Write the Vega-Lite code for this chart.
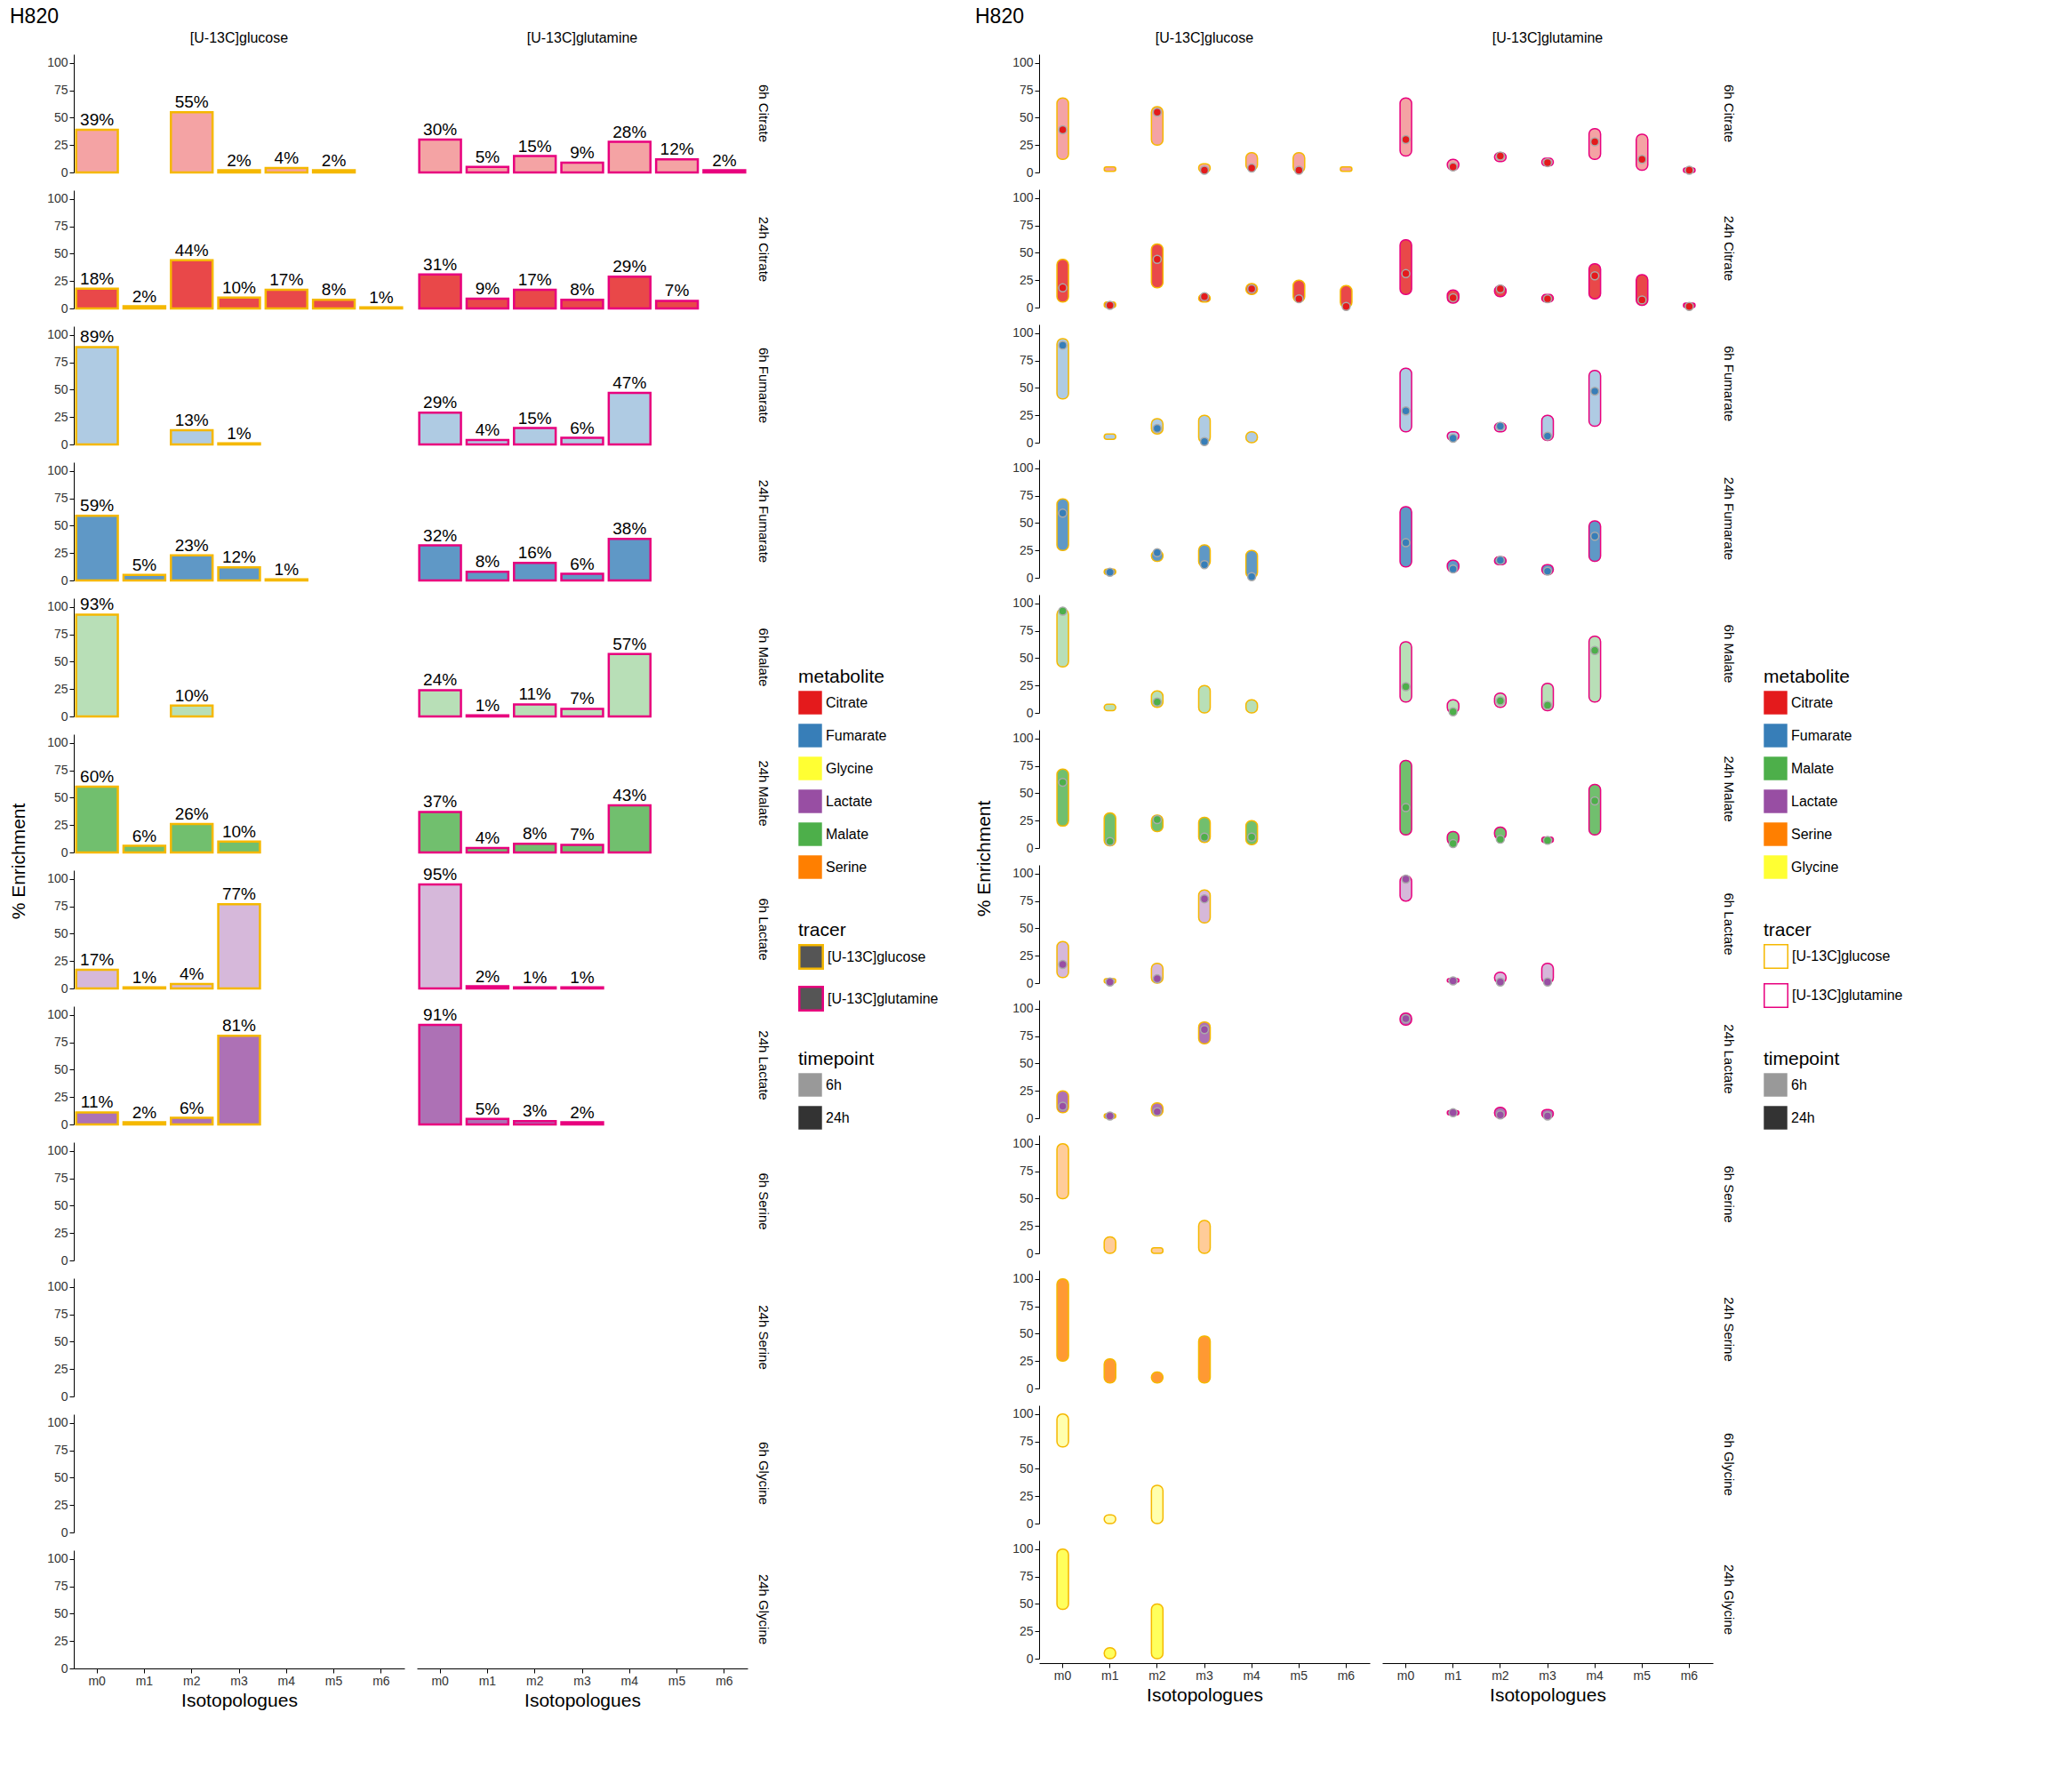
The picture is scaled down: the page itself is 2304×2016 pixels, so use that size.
{
"$schema":"https://vega.github.io/schema/vega-lite/v6.json",
"background":"white",
"padding":{"left":10,"top":8,"right":10,"bottom":5},
"config":{"view":{"stroke":null},"axis":{"grid":false,"domainColor":"black","tickColor":"black","labelFontSize":14,"labelOverlap":false,"titleFontSize":21,"titleFontWeight":"normal","labelColor":"#333"},
"header":{"labelFontSize":15,"titleFontSize":21,"titleFontWeight":"normal"},"legend":{"titleFontSize":21,"titleFontWeight":"normal","labelFontSize":16,"symbolSize":700,"rowPadding":10,"orient":"none"},"font":"Liberation Sans"},
"datasets":{
"bars":[
{"t":"glc","met":"Citrate","tp":"6h","iso":"m0","v":39},{"t":"glc","met":"Citrate","tp":"6h","iso":"m2","v":55},{"t":"glc","met":"Citrate","tp":"6h","iso":"m3","v":2},{"t":"glc","met":"Citrate","tp":"6h","iso":"m4","v":4},{"t":"glc","met":"Citrate","tp":"6h","iso":"m5","v":2},
{"t":"gln","met":"Citrate","tp":"6h","iso":"m0","v":30},{"t":"gln","met":"Citrate","tp":"6h","iso":"m1","v":5},{"t":"gln","met":"Citrate","tp":"6h","iso":"m2","v":15},{"t":"gln","met":"Citrate","tp":"6h","iso":"m3","v":9},{"t":"gln","met":"Citrate","tp":"6h","iso":"m4","v":28},{"t":"gln","met":"Citrate","tp":"6h","iso":"m5","v":12},{"t":"gln","met":"Citrate","tp":"6h","iso":"m6","v":2},
{"t":"glc","met":"Citrate","tp":"24h","iso":"m0","v":18},{"t":"glc","met":"Citrate","tp":"24h","iso":"m1","v":2},{"t":"glc","met":"Citrate","tp":"24h","iso":"m2","v":44},{"t":"glc","met":"Citrate","tp":"24h","iso":"m3","v":10},{"t":"glc","met":"Citrate","tp":"24h","iso":"m4","v":17},{"t":"glc","met":"Citrate","tp":"24h","iso":"m5","v":8},{"t":"glc","met":"Citrate","tp":"24h","iso":"m6","v":1},
{"t":"gln","met":"Citrate","tp":"24h","iso":"m0","v":31},{"t":"gln","met":"Citrate","tp":"24h","iso":"m1","v":9},{"t":"gln","met":"Citrate","tp":"24h","iso":"m2","v":17},{"t":"gln","met":"Citrate","tp":"24h","iso":"m3","v":8},{"t":"gln","met":"Citrate","tp":"24h","iso":"m4","v":29},{"t":"gln","met":"Citrate","tp":"24h","iso":"m5","v":7},
{"t":"glc","met":"Fumarate","tp":"6h","iso":"m0","v":89},{"t":"glc","met":"Fumarate","tp":"6h","iso":"m2","v":13},{"t":"glc","met":"Fumarate","tp":"6h","iso":"m3","v":1},
{"t":"gln","met":"Fumarate","tp":"6h","iso":"m0","v":29},{"t":"gln","met":"Fumarate","tp":"6h","iso":"m1","v":4},{"t":"gln","met":"Fumarate","tp":"6h","iso":"m2","v":15},{"t":"gln","met":"Fumarate","tp":"6h","iso":"m3","v":6},{"t":"gln","met":"Fumarate","tp":"6h","iso":"m4","v":47},
{"t":"glc","met":"Fumarate","tp":"24h","iso":"m0","v":59},{"t":"glc","met":"Fumarate","tp":"24h","iso":"m1","v":5},{"t":"glc","met":"Fumarate","tp":"24h","iso":"m2","v":23},{"t":"glc","met":"Fumarate","tp":"24h","iso":"m3","v":12},{"t":"glc","met":"Fumarate","tp":"24h","iso":"m4","v":1},
{"t":"gln","met":"Fumarate","tp":"24h","iso":"m0","v":32},{"t":"gln","met":"Fumarate","tp":"24h","iso":"m1","v":8},{"t":"gln","met":"Fumarate","tp":"24h","iso":"m2","v":16},{"t":"gln","met":"Fumarate","tp":"24h","iso":"m3","v":6},{"t":"gln","met":"Fumarate","tp":"24h","iso":"m4","v":38},
{"t":"glc","met":"Malate","tp":"6h","iso":"m0","v":93},{"t":"glc","met":"Malate","tp":"6h","iso":"m2","v":10},
{"t":"gln","met":"Malate","tp":"6h","iso":"m0","v":24},{"t":"gln","met":"Malate","tp":"6h","iso":"m1","v":1},{"t":"gln","met":"Malate","tp":"6h","iso":"m2","v":11},{"t":"gln","met":"Malate","tp":"6h","iso":"m3","v":7},{"t":"gln","met":"Malate","tp":"6h","iso":"m4","v":57},
{"t":"glc","met":"Malate","tp":"24h","iso":"m0","v":60},{"t":"glc","met":"Malate","tp":"24h","iso":"m1","v":6},{"t":"glc","met":"Malate","tp":"24h","iso":"m2","v":26},{"t":"glc","met":"Malate","tp":"24h","iso":"m3","v":10},
{"t":"gln","met":"Malate","tp":"24h","iso":"m0","v":37},{"t":"gln","met":"Malate","tp":"24h","iso":"m1","v":4},{"t":"gln","met":"Malate","tp":"24h","iso":"m2","v":8},{"t":"gln","met":"Malate","tp":"24h","iso":"m3","v":7},{"t":"gln","met":"Malate","tp":"24h","iso":"m4","v":43},
{"t":"glc","met":"Lactate","tp":"6h","iso":"m0","v":17},{"t":"glc","met":"Lactate","tp":"6h","iso":"m1","v":1},{"t":"glc","met":"Lactate","tp":"6h","iso":"m2","v":4},{"t":"glc","met":"Lactate","tp":"6h","iso":"m3","v":77},
{"t":"gln","met":"Lactate","tp":"6h","iso":"m0","v":95},{"t":"gln","met":"Lactate","tp":"6h","iso":"m1","v":2},{"t":"gln","met":"Lactate","tp":"6h","iso":"m2","v":1},{"t":"gln","met":"Lactate","tp":"6h","iso":"m3","v":1},
{"t":"glc","met":"Lactate","tp":"24h","iso":"m0","v":11},{"t":"glc","met":"Lactate","tp":"24h","iso":"m1","v":2},{"t":"glc","met":"Lactate","tp":"24h","iso":"m2","v":6},{"t":"glc","met":"Lactate","tp":"24h","iso":"m3","v":81},
{"t":"gln","met":"Lactate","tp":"24h","iso":"m0","v":91},{"t":"gln","met":"Lactate","tp":"24h","iso":"m1","v":5},{"t":"gln","met":"Lactate","tp":"24h","iso":"m2","v":3},{"t":"gln","met":"Lactate","tp":"24h","iso":"m3","v":2},
{"t":"glc","met":"Serine","tp":"6h","iso":"m0","v":null},{"t":"gln","met":"Serine","tp":"6h","iso":"m0","v":null},{"t":"glc","met":"Serine","tp":"24h","iso":"m0","v":null},{"t":"gln","met":"Serine","tp":"24h","iso":"m0","v":null},
{"t":"glc","met":"Glycine","tp":"6h","iso":"m0","v":null},{"t":"gln","met":"Glycine","tp":"6h","iso":"m0","v":null},{"t":"glc","met":"Glycine","tp":"24h","iso":"m0","v":null},{"t":"gln","met":"Glycine","tp":"24h","iso":"m0","v":null}
],
"vio":[
{"t":"glc","met":"Citrate","tp":"6h","iso":"m0","mean":39,"lo":12,"hi":68},{"t":"glc","met":"Citrate","tp":"6h","iso":"m1","mean":null,"lo":1,"hi":5},{"t":"glc","met":"Citrate","tp":"6h","iso":"m2","mean":55,"lo":25,"hi":60},{"t":"glc","met":"Citrate","tp":"6h","iso":"m3","mean":2,"lo":0,"hi":8},{"t":"glc","met":"Citrate","tp":"6h","iso":"m4","mean":4,"lo":2,"hi":18},{"t":"glc","met":"Citrate","tp":"6h","iso":"m5","mean":2,"lo":0,"hi":18},{"t":"glc","met":"Citrate","tp":"6h","iso":"m6","mean":null,"lo":1,"hi":5},
{"t":"gln","met":"Citrate","tp":"6h","iso":"m0","mean":30,"lo":15,"hi":68},{"t":"gln","met":"Citrate","tp":"6h","iso":"m1","mean":5,"lo":2,"hi":12},{"t":"gln","met":"Citrate","tp":"6h","iso":"m2","mean":15,"lo":10,"hi":18},{"t":"gln","met":"Citrate","tp":"6h","iso":"m3","mean":9,"lo":6,"hi":13},{"t":"gln","met":"Citrate","tp":"6h","iso":"m4","mean":28,"lo":12,"hi":40},{"t":"gln","met":"Citrate","tp":"6h","iso":"m5","mean":12,"lo":2,"hi":35},{"t":"gln","met":"Citrate","tp":"6h","iso":"m6","mean":2,"lo":0,"hi":4},
{"t":"glc","met":"Citrate","tp":"24h","iso":"m0","mean":18,"lo":5,"hi":44},{"t":"glc","met":"Citrate","tp":"24h","iso":"m1","mean":2,"lo":0,"hi":5},{"t":"glc","met":"Citrate","tp":"24h","iso":"m2","mean":44,"lo":18,"hi":58},{"t":"glc","met":"Citrate","tp":"24h","iso":"m3","mean":10,"lo":5,"hi":12},{"t":"glc","met":"Citrate","tp":"24h","iso":"m4","mean":17,"lo":12,"hi":22},{"t":"glc","met":"Citrate","tp":"24h","iso":"m5","mean":8,"lo":5,"hi":25},{"t":"glc","met":"Citrate","tp":"24h","iso":"m6","mean":1,"lo":0,"hi":20},
{"t":"gln","met":"Citrate","tp":"24h","iso":"m0","mean":31,"lo":12,"hi":62},{"t":"gln","met":"Citrate","tp":"24h","iso":"m1","mean":9,"lo":4,"hi":16},{"t":"gln","met":"Citrate","tp":"24h","iso":"m2","mean":17,"lo":10,"hi":20},{"t":"gln","met":"Citrate","tp":"24h","iso":"m3","mean":8,"lo":5,"hi":12},{"t":"gln","met":"Citrate","tp":"24h","iso":"m4","mean":29,"lo":8,"hi":40},{"t":"gln","met":"Citrate","tp":"24h","iso":"m5","mean":7,"lo":2,"hi":30},{"t":"gln","met":"Citrate","tp":"24h","iso":"m6","mean":1,"lo":0,"hi":4},
{"t":"glc","met":"Fumarate","tp":"6h","iso":"m0","mean":89,"lo":40,"hi":95},{"t":"glc","met":"Fumarate","tp":"6h","iso":"m1","mean":null,"lo":3,"hi":8},{"t":"glc","met":"Fumarate","tp":"6h","iso":"m2","mean":13,"lo":8,"hi":22},{"t":"glc","met":"Fumarate","tp":"6h","iso":"m3","mean":1,"lo":0,"hi":25},{"t":"glc","met":"Fumarate","tp":"6h","iso":"m4","mean":null,"lo":0,"hi":10},
{"t":"gln","met":"Fumarate","tp":"6h","iso":"m0","mean":29,"lo":10,"hi":68},{"t":"gln","met":"Fumarate","tp":"6h","iso":"m1","mean":4,"lo":2,"hi":10},{"t":"gln","met":"Fumarate","tp":"6h","iso":"m2","mean":15,"lo":10,"hi":18},{"t":"gln","met":"Fumarate","tp":"6h","iso":"m3","mean":6,"lo":2,"hi":25},{"t":"gln","met":"Fumarate","tp":"6h","iso":"m4","mean":47,"lo":15,"hi":66},
{"t":"glc","met":"Fumarate","tp":"24h","iso":"m0","mean":59,"lo":25,"hi":72},{"t":"glc","met":"Fumarate","tp":"24h","iso":"m1","mean":5,"lo":3,"hi":8},{"t":"glc","met":"Fumarate","tp":"24h","iso":"m2","mean":23,"lo":15,"hi":25},{"t":"glc","met":"Fumarate","tp":"24h","iso":"m3","mean":12,"lo":10,"hi":30},{"t":"glc","met":"Fumarate","tp":"24h","iso":"m4","mean":1,"lo":0,"hi":25},
{"t":"gln","met":"Fumarate","tp":"24h","iso":"m0","mean":32,"lo":10,"hi":65},{"t":"gln","met":"Fumarate","tp":"24h","iso":"m1","mean":8,"lo":5,"hi":16},{"t":"gln","met":"Fumarate","tp":"24h","iso":"m2","mean":16,"lo":12,"hi":19},{"t":"gln","met":"Fumarate","tp":"24h","iso":"m3","mean":6,"lo":3,"hi":12},{"t":"gln","met":"Fumarate","tp":"24h","iso":"m4","mean":38,"lo":15,"hi":52},
{"t":"glc","met":"Malate","tp":"6h","iso":"m0","mean":93,"lo":42,"hi":95},{"t":"glc","met":"Malate","tp":"6h","iso":"m1","mean":null,"lo":2,"hi":8},{"t":"glc","met":"Malate","tp":"6h","iso":"m2","mean":10,"lo":5,"hi":20},{"t":"glc","met":"Malate","tp":"6h","iso":"m3","mean":null,"lo":0,"hi":25},{"t":"glc","met":"Malate","tp":"6h","iso":"m4","mean":null,"lo":0,"hi":12},
{"t":"gln","met":"Malate","tp":"6h","iso":"m0","mean":24,"lo":10,"hi":65},{"t":"gln","met":"Malate","tp":"6h","iso":"m1","mean":1,"lo":0,"hi":12},{"t":"gln","met":"Malate","tp":"6h","iso":"m2","mean":11,"lo":5,"hi":18},{"t":"gln","met":"Malate","tp":"6h","iso":"m3","mean":7,"lo":2,"hi":27},{"t":"gln","met":"Malate","tp":"6h","iso":"m4","mean":57,"lo":10,"hi":70},
{"t":"glc","met":"Malate","tp":"24h","iso":"m0","mean":60,"lo":20,"hi":72},{"t":"glc","met":"Malate","tp":"24h","iso":"m1","mean":6,"lo":2,"hi":32},{"t":"glc","met":"Malate","tp":"24h","iso":"m2","mean":26,"lo":15,"hi":30},{"t":"glc","met":"Malate","tp":"24h","iso":"m3","mean":10,"lo":5,"hi":28},{"t":"glc","met":"Malate","tp":"24h","iso":"m4","mean":10,"lo":3,"hi":25},
{"t":"gln","met":"Malate","tp":"24h","iso":"m0","mean":37,"lo":12,"hi":80},{"t":"gln","met":"Malate","tp":"24h","iso":"m1","mean":4,"lo":3,"hi":15},{"t":"gln","met":"Malate","tp":"24h","iso":"m2","mean":8,"lo":8,"hi":19},{"t":"gln","met":"Malate","tp":"24h","iso":"m3","mean":7,"lo":5,"hi":10},{"t":"gln","met":"Malate","tp":"24h","iso":"m4","mean":43,"lo":12,"hi":58},
{"t":"glc","met":"Lactate","tp":"6h","iso":"m0","mean":17,"lo":5,"hi":38},{"t":"glc","met":"Lactate","tp":"6h","iso":"m1","mean":1,"lo":0,"hi":4},{"t":"glc","met":"Lactate","tp":"6h","iso":"m2","mean":4,"lo":0,"hi":18},{"t":"glc","met":"Lactate","tp":"6h","iso":"m3","mean":77,"lo":55,"hi":85},
{"t":"gln","met":"Lactate","tp":"6h","iso":"m0","mean":95,"lo":75,"hi":98},{"t":"gln","met":"Lactate","tp":"6h","iso":"m1","mean":2,"lo":1,"hi":4},{"t":"gln","met":"Lactate","tp":"6h","iso":"m2","mean":1,"lo":0,"hi":10},{"t":"gln","met":"Lactate","tp":"6h","iso":"m3","mean":1,"lo":0,"hi":18},
{"t":"glc","met":"Lactate","tp":"24h","iso":"m0","mean":11,"lo":5,"hi":25},{"t":"glc","met":"Lactate","tp":"24h","iso":"m1","mean":2,"lo":0,"hi":4},{"t":"glc","met":"Lactate","tp":"24h","iso":"m2","mean":6,"lo":2,"hi":14},{"t":"glc","met":"Lactate","tp":"24h","iso":"m3","mean":81,"lo":68,"hi":88},
{"t":"gln","met":"Lactate","tp":"24h","iso":"m0","mean":91,"lo":85,"hi":96},{"t":"gln","met":"Lactate","tp":"24h","iso":"m1","mean":5,"lo":3,"hi":7},{"t":"gln","met":"Lactate","tp":"24h","iso":"m2","mean":3,"lo":0,"hi":10},{"t":"gln","met":"Lactate","tp":"24h","iso":"m3","mean":2,"lo":0,"hi":8},
{"t":"glc","met":"Serine","tp":"6h","iso":"m0","mean":null,"lo":50,"hi":100},{"t":"glc","met":"Serine","tp":"6h","iso":"m1","mean":null,"lo":0,"hi":15},{"t":"glc","met":"Serine","tp":"6h","iso":"m2","mean":null,"lo":0,"hi":5},{"t":"glc","met":"Serine","tp":"6h","iso":"m3","mean":null,"lo":0,"hi":30},
{"t":"glc","met":"Serine","tp":"24h","iso":"m0","mean":null,"lo":25,"hi":100},{"t":"glc","met":"Serine","tp":"24h","iso":"m1","mean":null,"lo":5,"hi":27},{"t":"glc","met":"Serine","tp":"24h","iso":"m2","mean":null,"lo":5,"hi":15},{"t":"glc","met":"Serine","tp":"24h","iso":"m3","mean":null,"lo":5,"hi":48},
{"t":"glc","met":"Glycine","tp":"6h","iso":"m0","mean":null,"lo":70,"hi":100},{"t":"glc","met":"Glycine","tp":"6h","iso":"m1","mean":null,"lo":0,"hi":8},{"t":"glc","met":"Glycine","tp":"6h","iso":"m2","mean":null,"lo":0,"hi":35},
{"t":"glc","met":"Glycine","tp":"24h","iso":"m0","mean":null,"lo":45,"hi":100},{"t":"glc","met":"Glycine","tp":"24h","iso":"m1","mean":null,"lo":0,"hi":10},{"t":"glc","met":"Glycine","tp":"24h","iso":"m2","mean":null,"lo":0,"hi":50},
{"t":"gln","met":"Serine","tp":"6h","iso":"m0","mean":null,"lo":null,"hi":null},{"t":"gln","met":"Serine","tp":"24h","iso":"m0","mean":null,"lo":null,"hi":null},{"t":"gln","met":"Glycine","tp":"6h","iso":"m0","mean":null,"lo":null,"hi":null},{"t":"gln","met":"Glycine","tp":"24h","iso":"m0","mean":null,"lo":null,"hi":null}
]},
"resolve":{"scale":{"color":"independent","stroke":"independent","opacity":"independent","fillOpacity":"independent"},"legend":{"color":"independent","stroke":"independent","opacity":"independent","fillOpacity":"independent"}},
"spacing":40,
"hconcat":[
{
"data":{"name":"bars"},
"transform":[{"calculate":"datum.t == 'glc' ? '[U-13C]glucose' : '[U-13C]glutamine'","as":"tracer"},{"calculate":"datum.tp + '     ' + datum.met","as":"panel"}],
"title":{"text":"H820","anchor":"start","fontSize":23,"fontWeight":"normal"},
"facet":{
"row":{"field":"panel","title":"% Enrichment","sort":["6h     Citrate","24h     Citrate","6h     Fumarate","24h     Fumarate","6h     Malate","24h     Malate","6h     Lactate","24h     Lactate","6h     Serine","24h     Serine","6h     Glycine","24h     Glycine"],"header":{"labelOrient":"right","titleOrient":"left","labelAngle":90,"labelFontSize":15}},
"column":{"field":"tracer","title":null,"header":{"labelFontSize":16}}},
"spacing":{"row":12,"column":14},
"spec":{"width":372,"height":133,
"encoding":{
"x":{"field":"iso","type":"nominal","title":"Isotopologues","scale":{"domain":["m0","m1","m2","m3","m4","m5","m6"],"paddingInner":0.12,"paddingOuter":0.05},"axis":{"labelAngle":0}},
"y":{"field":"v","type":"quantitative","title":null,"scale":{"domain":[0,108],"nice":false},"axis":{"values":[0,25,50,75,100]}}},
"layer":[
{"mark":{"type":"bar","strokeWidth":2.5},
"encoding":{
"color":{"field":"met","type":"nominal","title":"metabolite","scale":{"domain":["Citrate","Fumarate","Glycine","Lactate","Malate","Serine"],"range":["#e41a1c","#377eb8","#ffff33","#984ea3","#4daf4a","#ff7f00"]},"legend":{"symbolType":"square","symbolOpacity":1,"symbolStrokeWidth":0,"legendX":815,"legendY":690}},
"stroke":{"field":"tracer","type":"nominal","title":"tracer","scale":{"domain":["[U-13C]glucose","[U-13C]glutamine"],"range":["#f5b800","#e8007e"]},"legend":{"symbolType":"square","symbolFillColor":"#555","symbolStrokeWidth":2.5,"legendX":815,"legendY":975}},
"fillOpacity":{"field":"tp","type":"nominal","scale":{"domain":["6h","24h"],"range":[0.4,0.8]},"legend":null}}},
{"transform":[{"filter":"datum.v != null"},{"calculate":"datum.v + '%'","as":"lab"}],
"mark":{"type":"text","dy":-11,"fontSize":19,"color":"black"},
"encoding":{"text":{"field":"lab"}}},
{"transform":[{"filter":"datum.v != null"}],
"mark":{"type":"text","color":"black"},
"encoding":{"text":{"value":""},
"opacity":{"field":"tp","type":"nominal","title":"timepoint","scale":{"domain":["6h","24h"],"range":[0.4,0.8]},"legend":{"symbolType":"square","symbolFillColor":"#222","symbolStrokeWidth":0,"legendX":815,"legendY":1120}}}}
]}
},
{
"data":{"name":"vio"},
"transform":[{"calculate":"datum.t == 'glc' ? '[U-13C]glucose' : '[U-13C]glutamine'","as":"tracer"},{"calculate":"datum.tp + '     ' + datum.met","as":"panel"}],
"title":{"text":"H820","anchor":"start","fontSize":23,"fontWeight":"normal"},
"facet":{
"row":{"field":"panel","title":"% Enrichment","sort":["6h     Citrate","24h     Citrate","6h     Fumarate","24h     Fumarate","6h     Malate","24h     Malate","6h     Lactate","24h     Lactate","6h     Serine","24h     Serine","6h     Glycine","24h     Glycine"],"header":{"labelOrient":"right","titleOrient":"left","labelAngle":90,"labelFontSize":15}},
"column":{"field":"tracer","title":null,"header":{"labelFontSize":16}}},
"spacing":{"row":12,"column":14},
"spec":{"width":372,"height":133,
"encoding":{
"x":{"field":"iso","type":"nominal","title":"Isotopologues","scale":{"domain":["m0","m1","m2","m3","m4","m5","m6"]},"axis":{"labelAngle":0}}},
"layer":[
{"transform":[{"filter":"datum.lo != null"}],
"mark":{"type":"bar","width":13,"strokeWidth":1.5,"cornerRadius":6},
"encoding":{
"y":{"field":"lo","type":"quantitative","title":null,"scale":{"domain":[0,108],"nice":false},"axis":{"values":[0,25,50,75,100]}},
"y2":{"field":"hi"},
"color":{"field":"met","type":"nominal","title":"metabolite","scale":{"domain":["Citrate","Fumarate","Malate","Lactate","Serine","Glycine"],"range":["#e41a1c","#377eb8","#4daf4a","#984ea3","#ff7f00","#ffff33"]},"legend":{"symbolType":"square","symbolOpacity":1,"symbolStrokeWidth":0,"legendX":815,"legendY":690}},
"stroke":{"field":"tracer","type":"nominal","title":"tracer","scale":{"domain":["[U-13C]glucose","[U-13C]glutamine"],"range":["#f5b800","#e8007e"]},"legend":{"symbolType":"square","symbolFillColor":"white","symbolStrokeWidth":1.5,"legendX":815,"legendY":975}},
"fillOpacity":{"field":"tp","type":"nominal","scale":{"domain":["6h","24h"],"range":[0.4,0.8]},"legend":null}}},
{"transform":[{"filter":"datum.mean != null"}],
"mark":{"type":"circle","size":80,"stroke":"#aaa","strokeWidth":1.5,"opacity":1},
"encoding":{
"y":{"field":"mean","type":"quantitative","title":null,"scale":{"domain":[0,108],"nice":false},"axis":{"values":[0,25,50,75,100]}},
"fill":{"field":"met","type":"nominal","scale":{"domain":["Citrate","Fumarate","Malate","Lactate","Serine","Glycine"],"range":["#e41a1c","#377eb8","#4daf4a","#984ea3","#ff7f00","#ffff33"]},"legend":null}}},
{"transform":[{"filter":"datum.lo != null"}],
"mark":{"type":"text","color":"black"},
"encoding":{"y":{"field":"lo","type":"quantitative","title":null,"scale":{"domain":[0,108],"nice":false},"axis":{"values":[0,25,50,75,100]}},"text":{"value":""},
"opacity":{"field":"tp","type":"nominal","title":"timepoint","scale":{"domain":["6h","24h"],"range":[0.4,0.8]},"legend":{"symbolType":"square","symbolFillColor":"#222","symbolStrokeWidth":0,"legendX":815,"legendY":1120}}}}
]}
}
]
}
